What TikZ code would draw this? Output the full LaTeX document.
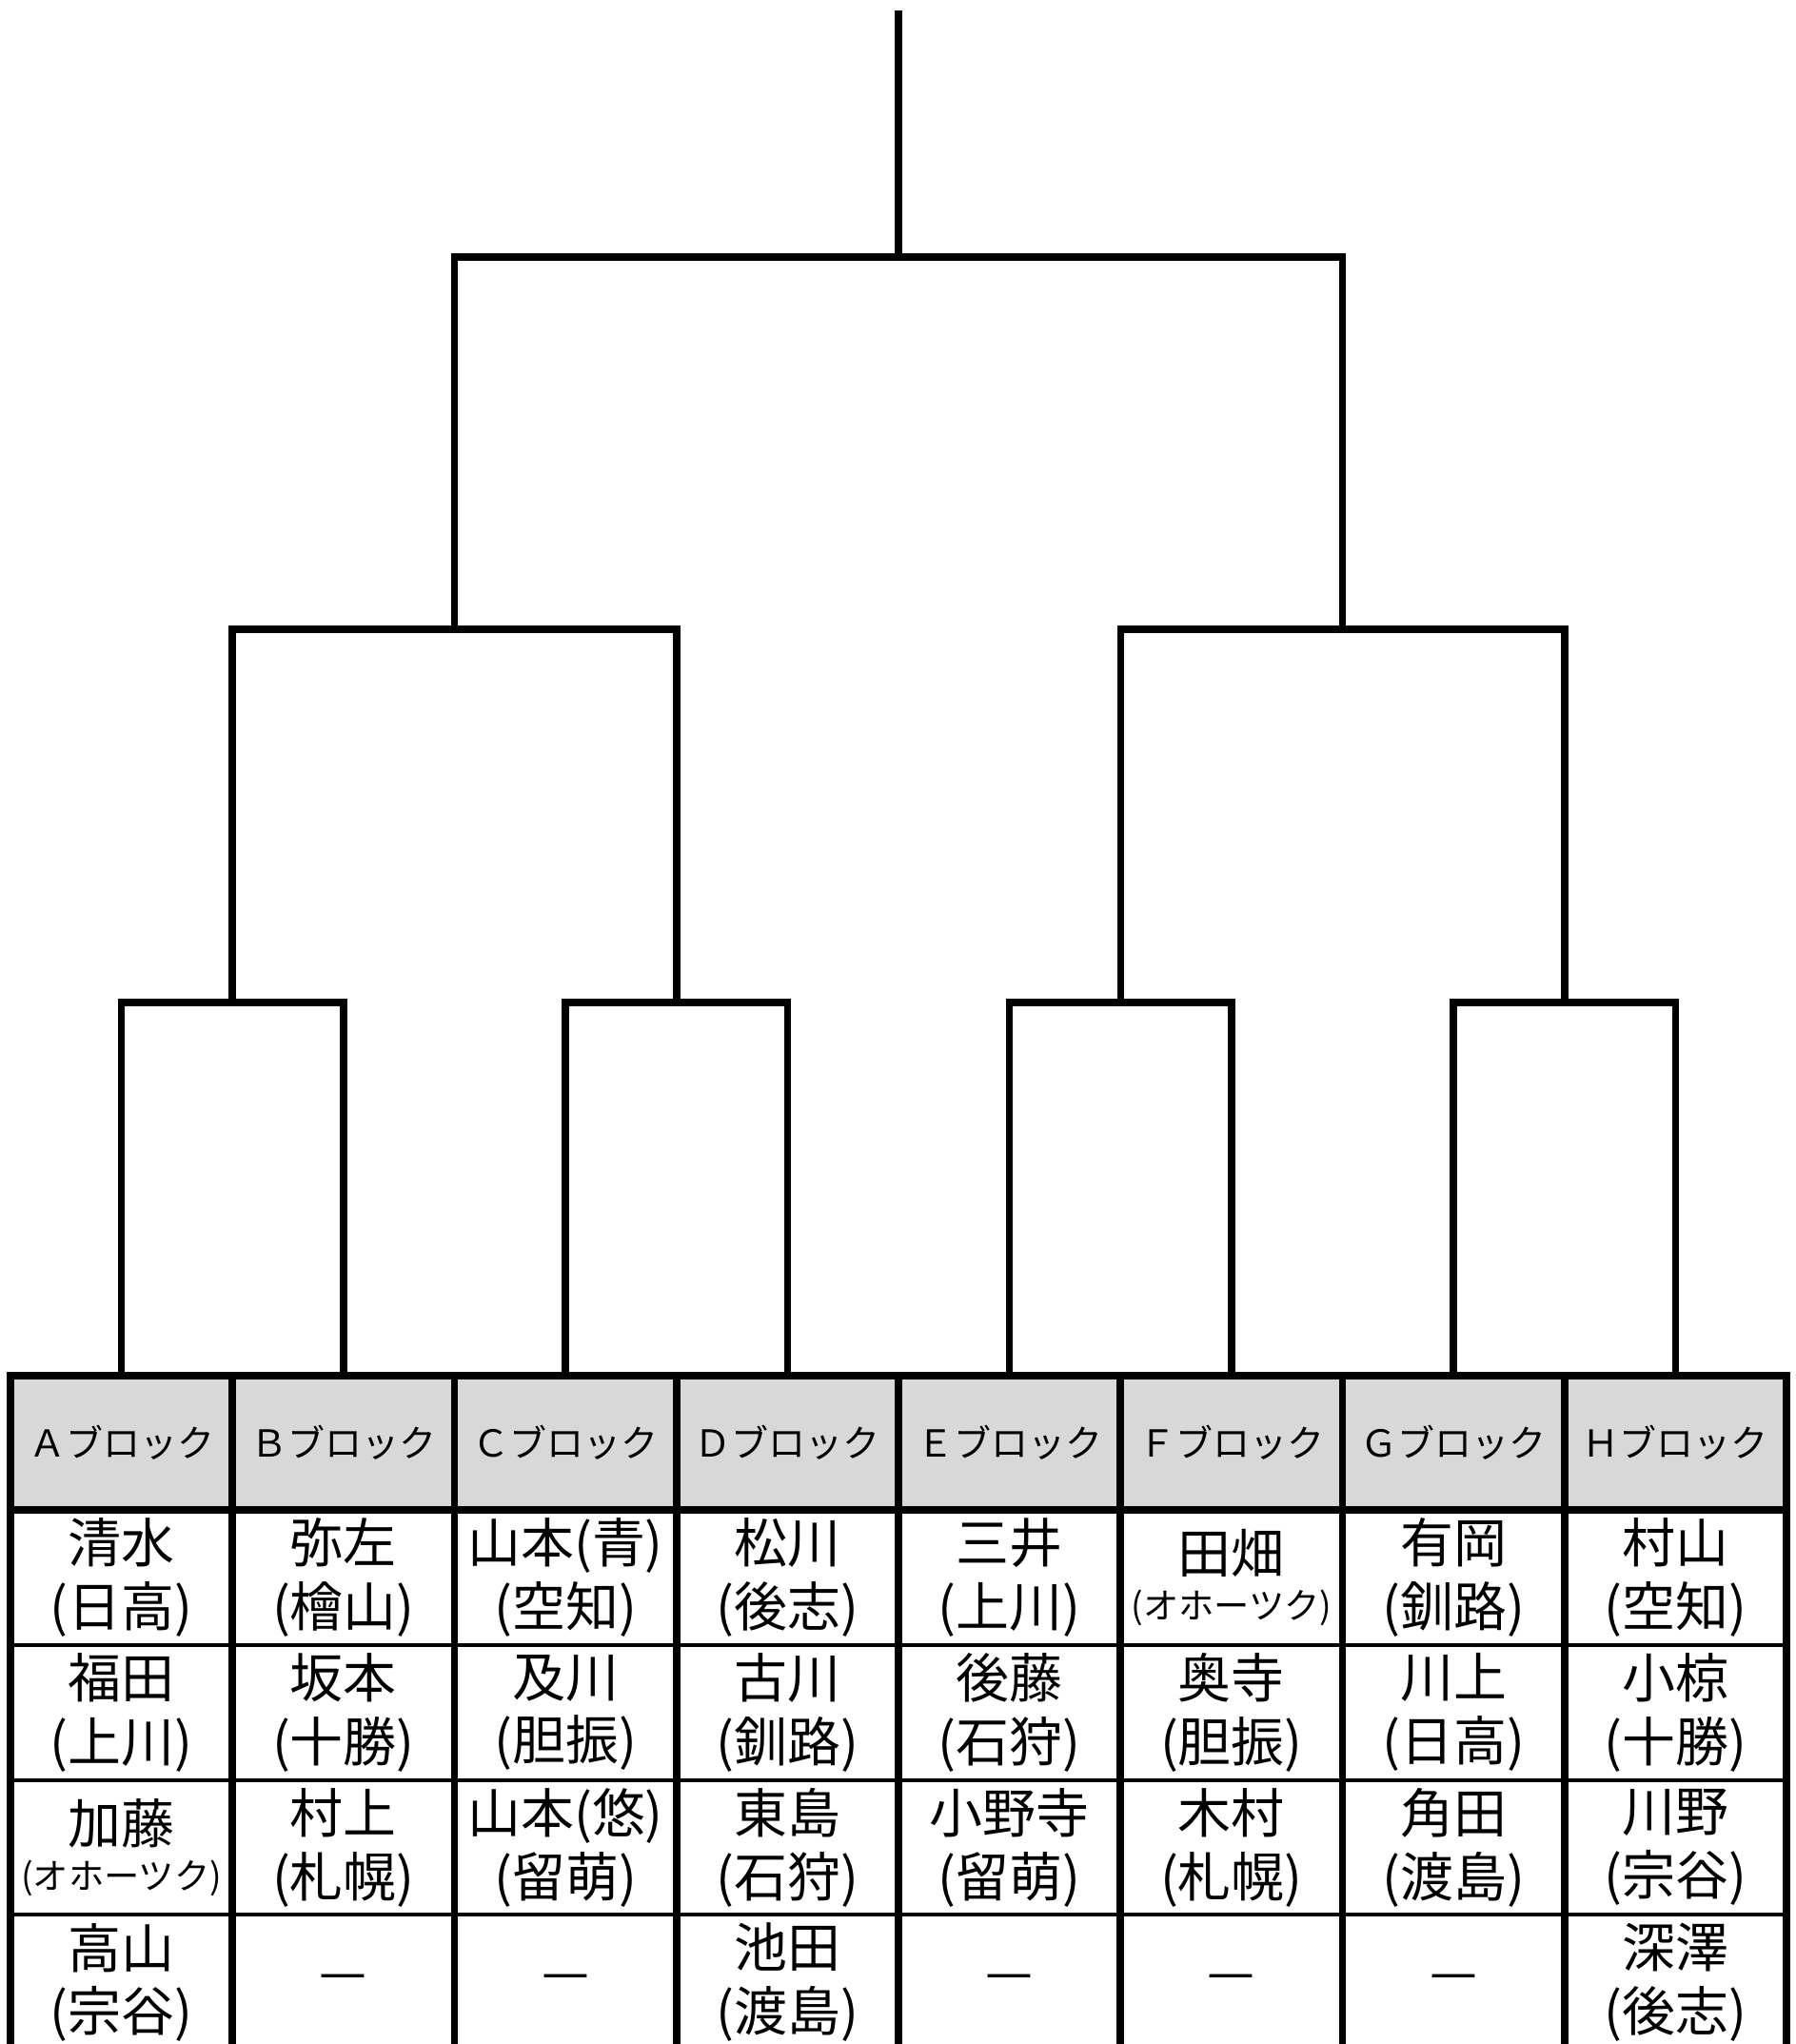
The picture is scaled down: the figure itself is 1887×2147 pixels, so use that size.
\documentclass[tikz,border=0pt]{standalone}
\usepackage{fontspec}
\setmainfont{Noto Sans CJK JP}
\usepackage{tikz}
\definecolor{headgray}{HTML}{D8D8D8}
\tikzset{
bracket/.style={line width=0.076cm},
rule/.style={line width=0.076cm,line cap=rect},
thinrule/.style={line width=0.034cm},
block/.style={fill=headgray,inner sep=0pt,outer sep=0pt,minimum width=2.3325cm,minimum height=1.41cm,font=\fontsize{11.1pt}{13pt}\selectfont},
entry/.style={inner sep=0pt,align=center,font=\fontsize{15.9pt}{19pt}\selectfont}
}
\newcommand\smallpref[1]{{\fontsize{10.6pt}{12pt}\selectfont(#1)}}
\begin{document}
\begin{tikzpicture}[x=0.01cm,y=-0.01cm]
\useasboundingbox (0,0) rectangle (1887,2147);
\clip (0,0) rectangle (1887,2147);
\foreach \n/\x/\lab in {a/1/Ａ,b/2/Ｂ,c/3/Ｃ,d/4/Ｄ,e/5/Ｅ,f/6/Ｆ,g/7/Ｇ,h/8/Ｈ}
\node[block] (\n) at ({127.6+233.25*(\x-1)},1515.5) {\lab ブロック};
\foreach \n/\y/\nm/\pf in {
a/1/清水/(日高),a/2/福田/(上川),a/4/高山/(宗谷),
b/1/弥左/(檜山),b/2/坂本/(十勝),b/3/村上/(札幌),
c/1/山本(青)/(空知),c/2/及川/(胆振),c/3/山本(悠)/(留萌),
d/1/松川/(後志),d/2/古川/(釧路),d/3/東島/(石狩),d/4/池田/(渡島),
e/1/三井/(上川),e/2/後藤/(石狩),e/3/小野寺/(留萌),
f/2/奥寺/(胆振),f/3/木村/(札幌),
g/1/有岡/(釧路),g/2/川上/(日高),g/3/角田/(渡島),
h/1/村山/(空知),h/2/小椋/(十勝),h/3/川野/(宗谷),h/4/深澤/(後志)
}
\node[entry] (\n\y) at ([yshift={-1.417cm*(\y-1)}]\n.center |- 0,1657) {\nm\\\pf};
\foreach \n/\y/\nm in {a/3/加藤,f/1/田畑}
\node[entry] (\n\y) at ([yshift={-1.417cm*(\y-1)}]\n.center |- 0,1657) {\nm\\[-5.4pt]\smallpref{オホーツク}};
\foreach \n in {b,c,e,f,g}
\node[entry] (\n4) at (\n |- a4) {—};
\foreach \y in {1728,1870,2011} \draw[thinrule] (11,\y) -- (1877,\y);
\foreach \y in {1445,1586} \draw[rule] (11,\y) -- (1877,\y);
\foreach \k in {0,...,8} \draw[rule] ({11+233.25*\k},1445) -- ({11+233.25*\k},2160);
\coordinate (ab) at (244.2,1053);
\coordinate (cd) at (710.8,1053);
\coordinate (ef) at (1177.3,1053);
\coordinate (gh) at (1643.8,1053);
\coordinate (abcd) at (477.5,661);
\coordinate (efgh) at (1410.5,661);
\coordinate (final) at (944,270);
\coordinate (top) at (944,11);
\foreach \lft/\rgt/\m in {a/b/ab,c/d/cd,e/f/ef,g/h/gh}
\draw[bracket] (\lft.north) |- (\m) -| (\rgt.north);
\foreach \lft/\rgt/\m in {ab/cd/abcd,ef/gh/efgh,abcd/efgh/final}
\draw[bracket] (\lft) |- (\m) -| (\rgt);
\draw[bracket] (final) -- (top);
\end{tikzpicture}
\end{document}
